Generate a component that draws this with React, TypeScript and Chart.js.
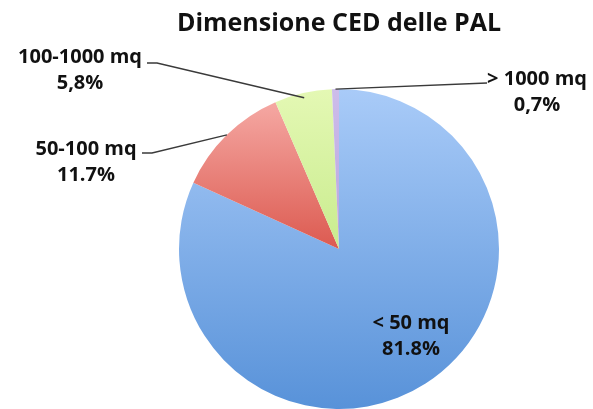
import React, { useEffect, useRef } from "react";
import { Chart, registerables } from "chart.js";

Chart.register(...registerables);

const TITLE = "Dimensione CED delle PAL";
const categories = ["< 50 mq", "50-100 mq", "100-1000 mq", "> 1000 mq"];
const values = [81.8, 11.7, 5.8, 0.7];
const valueLabels = ["81.8%", "11.7%", "5,8%", "0,7%"];
const topColors = ["#a9cbf8", "#f5a8a3", "#e4f8b4", "#cdbdea"];
const bottomColors = ["#5892d9", "#dc5a50", "#c9ec8e", "#b9a4de"];

const FONT = "'Open Sans', sans-serif";

function sliceGradient(ctx: any) {
  const chart = ctx.chart;
  const area = chart.chartArea;
  const i = ctx.dataIndex;
  if (!area) return topColors[i];
  const cx = (area.left + area.right) / 2;
  const cy = (area.top + area.bottom) / 2;
  const r = Math.min(area.width, area.height) / 2;
  const data: number[] = chart.data.datasets[0].data as number[];
  const total = data.reduce((a, b) => a + b, 0);
  let cum = 0;
  for (let k = 0; k < i; k++) cum += data[k];
  const a0 = -Math.PI / 2 + (2 * Math.PI * cum) / total;
  const a1 = a0 + (2 * Math.PI * data[i]) / total;
  let y0 = cy;
  let y1 = cy;
  const steps = 60;
  for (let s = 0; s <= steps; s++) {
    const a = a0 + ((a1 - a0) * s) / steps;
    const y = cy + r * Math.sin(a);
    y0 = Math.min(y0, y);
    y1 = Math.max(y1, y);
  }
  if (y1 - y0 < 1) y1 = y0 + 1;
  const g = chart.ctx.createLinearGradient(0, y0, 0, y1);
  g.addColorStop(0, topColors[i]);
  g.addColorStop(1, bottomColors[i]);
  return g;
}

const labelPlugin = {
  id: "pieLabels",
  afterDatasetsDraw(chart: any) {
    const ctx = chart.ctx;
    const meta = chart.getDatasetMeta(0);
    const arcs = meta.data;
    const edge = (idx: number, rf: number) => {
      const a: any = arcs[idx];
      const mid = (a.startAngle + a.endAngle) / 2;
      return [a.x + Math.cos(mid) * a.outerRadius * rf, a.y + Math.sin(mid) * a.outerRadius * rf];
    };
    ctx.save();
    ctx.strokeStyle = "#3a3a3a";
    ctx.lineWidth = 1.3;
    const lines: Array<[number, number, number[][]]> = [
      [1, 1.0, [[152, 153], [142, 153]]],
      [2, 0.97, [[157, 63], [147, 63]]],
      [3, 1.0, [[487, 83]]],
    ];
    for (const [idx, rf, pts] of lines) {
      const [sx, sy] = edge(idx, rf);
      ctx.beginPath();
      ctx.moveTo(sx, sy);
      for (const p of pts) ctx.lineTo(p[0], p[1]);
      ctx.stroke();
    }
    ctx.fillStyle = "#111111";
    ctx.font = `bold 20px ${FONT}`;
    ctx.textAlign = "center";
    ctx.textBaseline = "middle";
    const pos: number[][] = [
      [411, 323],
      [86, 149],
      [80, 57],
      [537, 79],
    ];
    for (let i = 0; i < categories.length; i++) {
      const [x, y] = pos[i];
      ctx.fillText(categories[i], x, y);
      ctx.fillText(valueLabels[i], x, y + 26);
    }
    ctx.restore();
  },
};

export default function App() {
  const ref = useRef<HTMLCanvasElement>(null);
  useEffect(() => {
    document.body.style.margin = "0";
    const canvas = ref.current!;
    const chart = new Chart(canvas, {
      type: "pie",
      data: {
        labels: categories,
        datasets: [
          {
            data: values,
            backgroundColor: sliceGradient as any,
            borderWidth: 0,
          },
        ],
      },
      options: {
        responsive: false,
        animation: false,
        layout: { padding: { left: 85, right: 0, top: 0, bottom: 0 } },
        plugins: {
          legend: { display: false },
          tooltip: { enabled: false },
          title: {
            display: true,
            text: TITLE,
            color: "#111111",
            font: { family: FONT, size: 25, weight: "bold" },
            padding: { top: 9, bottom: 50 },
          },
        },
      },
      plugins: [labelPlugin],
    });
    return () => chart.destroy();
  }, []);
  return (
    <div style={{ width: 593, height: 409 }}>
      <canvas ref={ref} width={593} height={409} />
    </div>
  );
}
